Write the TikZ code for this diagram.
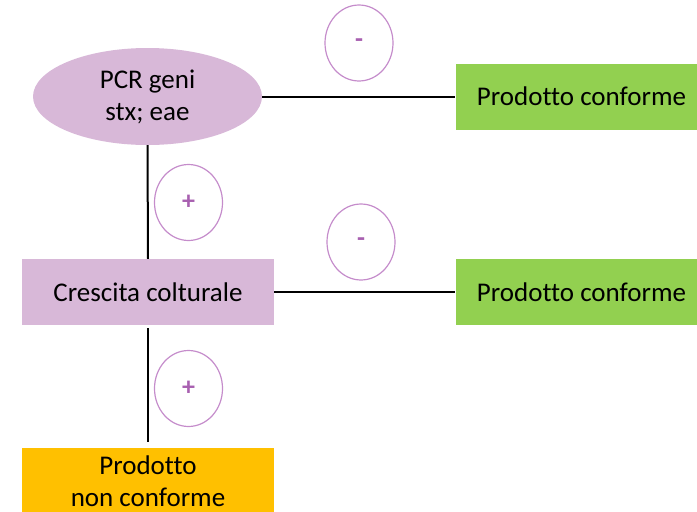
\documentclass[tikz,border=0pt]{standalone}
\usepackage{fontspec}
\setmainfont{Carlito}[Ligatures={NoCommon}]
\usetikzlibrary{shapes.geometric}
\definecolor{lilac}{HTML}{D8B8D8}
\definecolor{ringcol}{HTML}{C58CCB}
\definecolor{signcol}{HTML}{A860B0}
\definecolor{okgreen}{HTML}{92D050}
\definecolor{koorange}{HTML}{FFC000}
\tikzset{
  every node/.style={font=\fontsize{27}{32}\selectfont, text=black, inner sep=0pt, align=center},
  box/.style={rectangle, minimum height=66pt},
  lilacbox/.style={box, fill=lilac, minimum width=252pt},
  greenbox/.style={box, fill=okgreen, minimum width=252pt},
  orangebox/.style={box, fill=koorange, minimum width=252pt},
  ring/.style={ellipse, draw=ringcol, line width=1.2pt, minimum width=68pt, minimum height=76pt, text=signcol, font=\fontsize{26}{30}\selectfont\bfseries},
  link/.style={line width=2pt, black}
}
\begin{document}
\begin{tikzpicture}[x=1pt,y=-1pt]
\useasboundingbox (0,0) rectangle (697,512);
\node[ellipse, fill=lilac, minimum width=229pt, minimum height=97pt] (pcr) at (147.5,96.5) {PCR geni\\stx; eae};
\node[greenbox] (g1) at (581.5,96.5) {Prodotto conforme};
\node[lilacbox] (cr) at (148,292) {Crescita colturale};
\node[greenbox] (g2) at (581.5,292) {Prodotto conforme};
\node[orangebox] (nc) at (148,481) {Prodotto\\non conforme};
\node[ring] (m1) at (359,43) {-};
\node[ring] (p1) at (188.5,202.5) {+};
\node[ring] (m2) at (361,242) {-};
\node[ring] (p2) at (188.5,388.5) {+};
\draw[link] (pcr.east) -- (g1.west);
\draw[link] (pcr.south) -- (cr.north);
\draw[link] (cr.east) -- (g2.west);
\draw[link, shorten <=3pt, shorten >=6pt] (cr.south) -- (nc.north);
\end{tikzpicture}
\end{document}
